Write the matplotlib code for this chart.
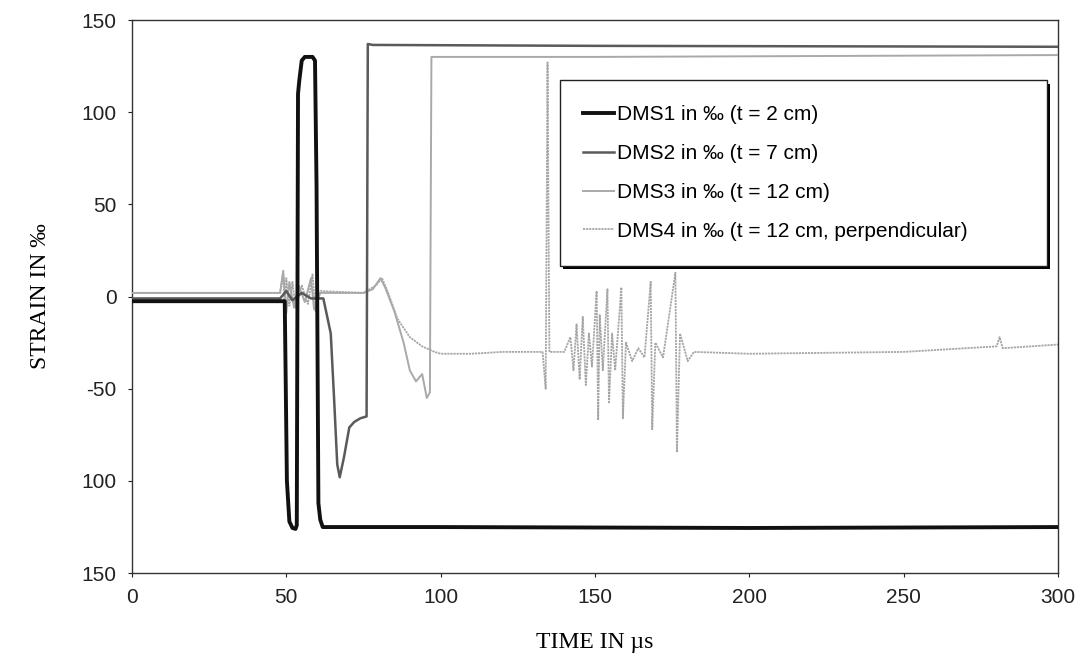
import matplotlib.pyplot as plt
from matplotlib.patches import Rectangle

# ----------------------------------------------
#        strain gauges DMS1..DMS4 over time
# ----------------------------------------------

# DMS1 (t = 2 cm)
t1 = [0, 49.5, 50.2, 51, 52, 53, 53.4, 53.8, 54.2, 55, 56, 58.5, 59.3, 59.8, 60.4, 61, 61.8, 100, 200, 300]
s1 = [-2.5, -2.5, -100, -122, -125.5, -126, -124, 110, 117, 128, 130, 130, 128, 60, -112, -121, -125, -125, -125.5, -125]

# DMS2 (t = 7 cm)
t2 = [0, 48, 50, 52, 55, 58, 62, 64.4, 65.5, 66.5, 67.3, 68.7, 70.4, 72, 74, 76, 76.4, 78, 150, 300]
s2 = [-1, -1, 3, -2, 2, -1, -1, -20, -56, -91, -98, -87, -71, -68, -66, -65, 137, 136.5, 136, 135.5]

# DMS3 (t = 12 cm)
t3 = [0, 48, 49, 50, 51, 52.5, 54, 56, 58, 59, 61, 75, 78, 80.5, 82, 85, 88, 90, 92, 94, 95.5, 96.5, 97, 150, 300]
s3 = [2, 2, 14, -9, 8, -6, 6, -3, 10, -7, 2, 2, 4, 10, 5, -8, -25, -40, -46, -42, -55, -52, 130, 130, 131]

# DMS4 (t = 12 cm, perpendicular)
t4 = [0, 48, 49, 49.5, 50, 51, 52, 53, 55, 57, 58.5, 59.5, 61, 75, 79, 81, 83, 86, 90, 94, 98, 100,
      110, 120, 133, 134, 134.6, 135.2, 140,
      142, 143, 144, 145, 146, 147, 148, 149, 150.5, 151, 151.5, 152.5, 154, 154.5, 155.5, 156.5,
      158.5, 159, 160, 162, 164, 166, 168, 168.5, 169.5, 172, 176, 176.5, 177.5, 180, 182,
      200, 250, 270, 280, 281, 282, 300]
s4 = [2, 2, 12, -8, 10, -5, 8, -6, 6, -4, 12, -8, 3, 2, 6, 10, 2, -12, -22, -27, -30, -31,
      -31, -30, -30, -50, 127, -30, -30,
      -22, -40, -15, -45, -11, -48, -20, -38, 3, -67, -10, -40, 4, -58, -20, -40,
      5, -66, -25, -35, -28, -33, 8, -72, -25, -33, 13, -84, -20, -35, -30,
      -31, -30, -28, -27, -22, -28, -26]

labels = ['DMS1 in ‰ (t = 2 cm)', 'DMS2 in ‰ (t = 7 cm)',
          'DMS3 in ‰ (t = 12 cm)', 'DMS4 in ‰ (t = 12 cm, perpendicular)']
yticks = [150, 100, 50, 0, -50, -100, -150]
ytick_labels = ['150', '100', '50', '0', '-50', '100', '150']  # minus signs lost in the scan
xticks = [0, 50, 100, 150, 200, 250, 300]

plt.rcParams['font.family'] = ['Liberation Sans', 'DejaVu Sans']

fig = plt.figure(figsize=(10.81, 6.68), dpi=100)
ax = fig.add_axes([0.122, 0.142, 0.857, 0.828])

ax.plot(t4, s4, color='#a6a6a6', lw=1.3, ls=(0, (1.2, 0.5)), label=labels[3], zorder=2)
ax.plot(t3, s3, color='#a9a9a9', lw=1.4, label=labels[2], zorder=3)
ax.plot(t2, s2, color='#5a5a5a', lw=1.8, label=labels[1], zorder=4)
ax.plot(t1, s1, color='#111111', lw=2.8, label=labels[0], zorder=5)

ax.set_xlim(0, 300)
ax.set_ylim(-150, 150)
ax.set_xticks(xticks)
ax.set_yticks(yticks)
ax.set_yticklabels(ytick_labels)
ax.tick_params(direction='out', length=3, width=0.8, labelsize=15, pad=8, colors='#222222')
for sp in ax.spines.values():
    sp.set_color('#333333')
    sp.set_linewidth(1)

serif = ['Liberation Serif', 'DejaVu Serif']
ax.set_xlabel('TIME IN µs', fontsize=17, family=serif, labelpad=18)
ax.set_ylabel('STRAIN IN ‰', fontsize=17, family=serif, labelpad=22)

# legend box with excel-like black shadow (bottom and right)
bx, by, bw, bh = 0.462, 0.556, 0.526, 0.335
ax.add_patch(Rectangle((bx + 0.0035, by - 0.006), bw, bh, transform=ax.transAxes,
                       facecolor='black', edgecolor='none', zorder=9))
ax.add_patch(Rectangle((bx, by), bw, bh, transform=ax.transAxes,
                       facecolor='white', edgecolor='#222222', lw=1, zorder=10))

h, l = ax.get_legend_handles_labels()
order = [3, 2, 1, 0]
leg = ax.legend([h[i] for i in order], [l[i] for i in order],
                loc='center left', bbox_to_anchor=(0.487, by + bh / 2),
                borderaxespad=0, borderpad=0, fontsize=15, handlelength=1.5,
                handletextpad=0.12, labelspacing=0.95, frameon=False)
leg.set_zorder(11)

fig.savefig('out.png', dpi=100)
